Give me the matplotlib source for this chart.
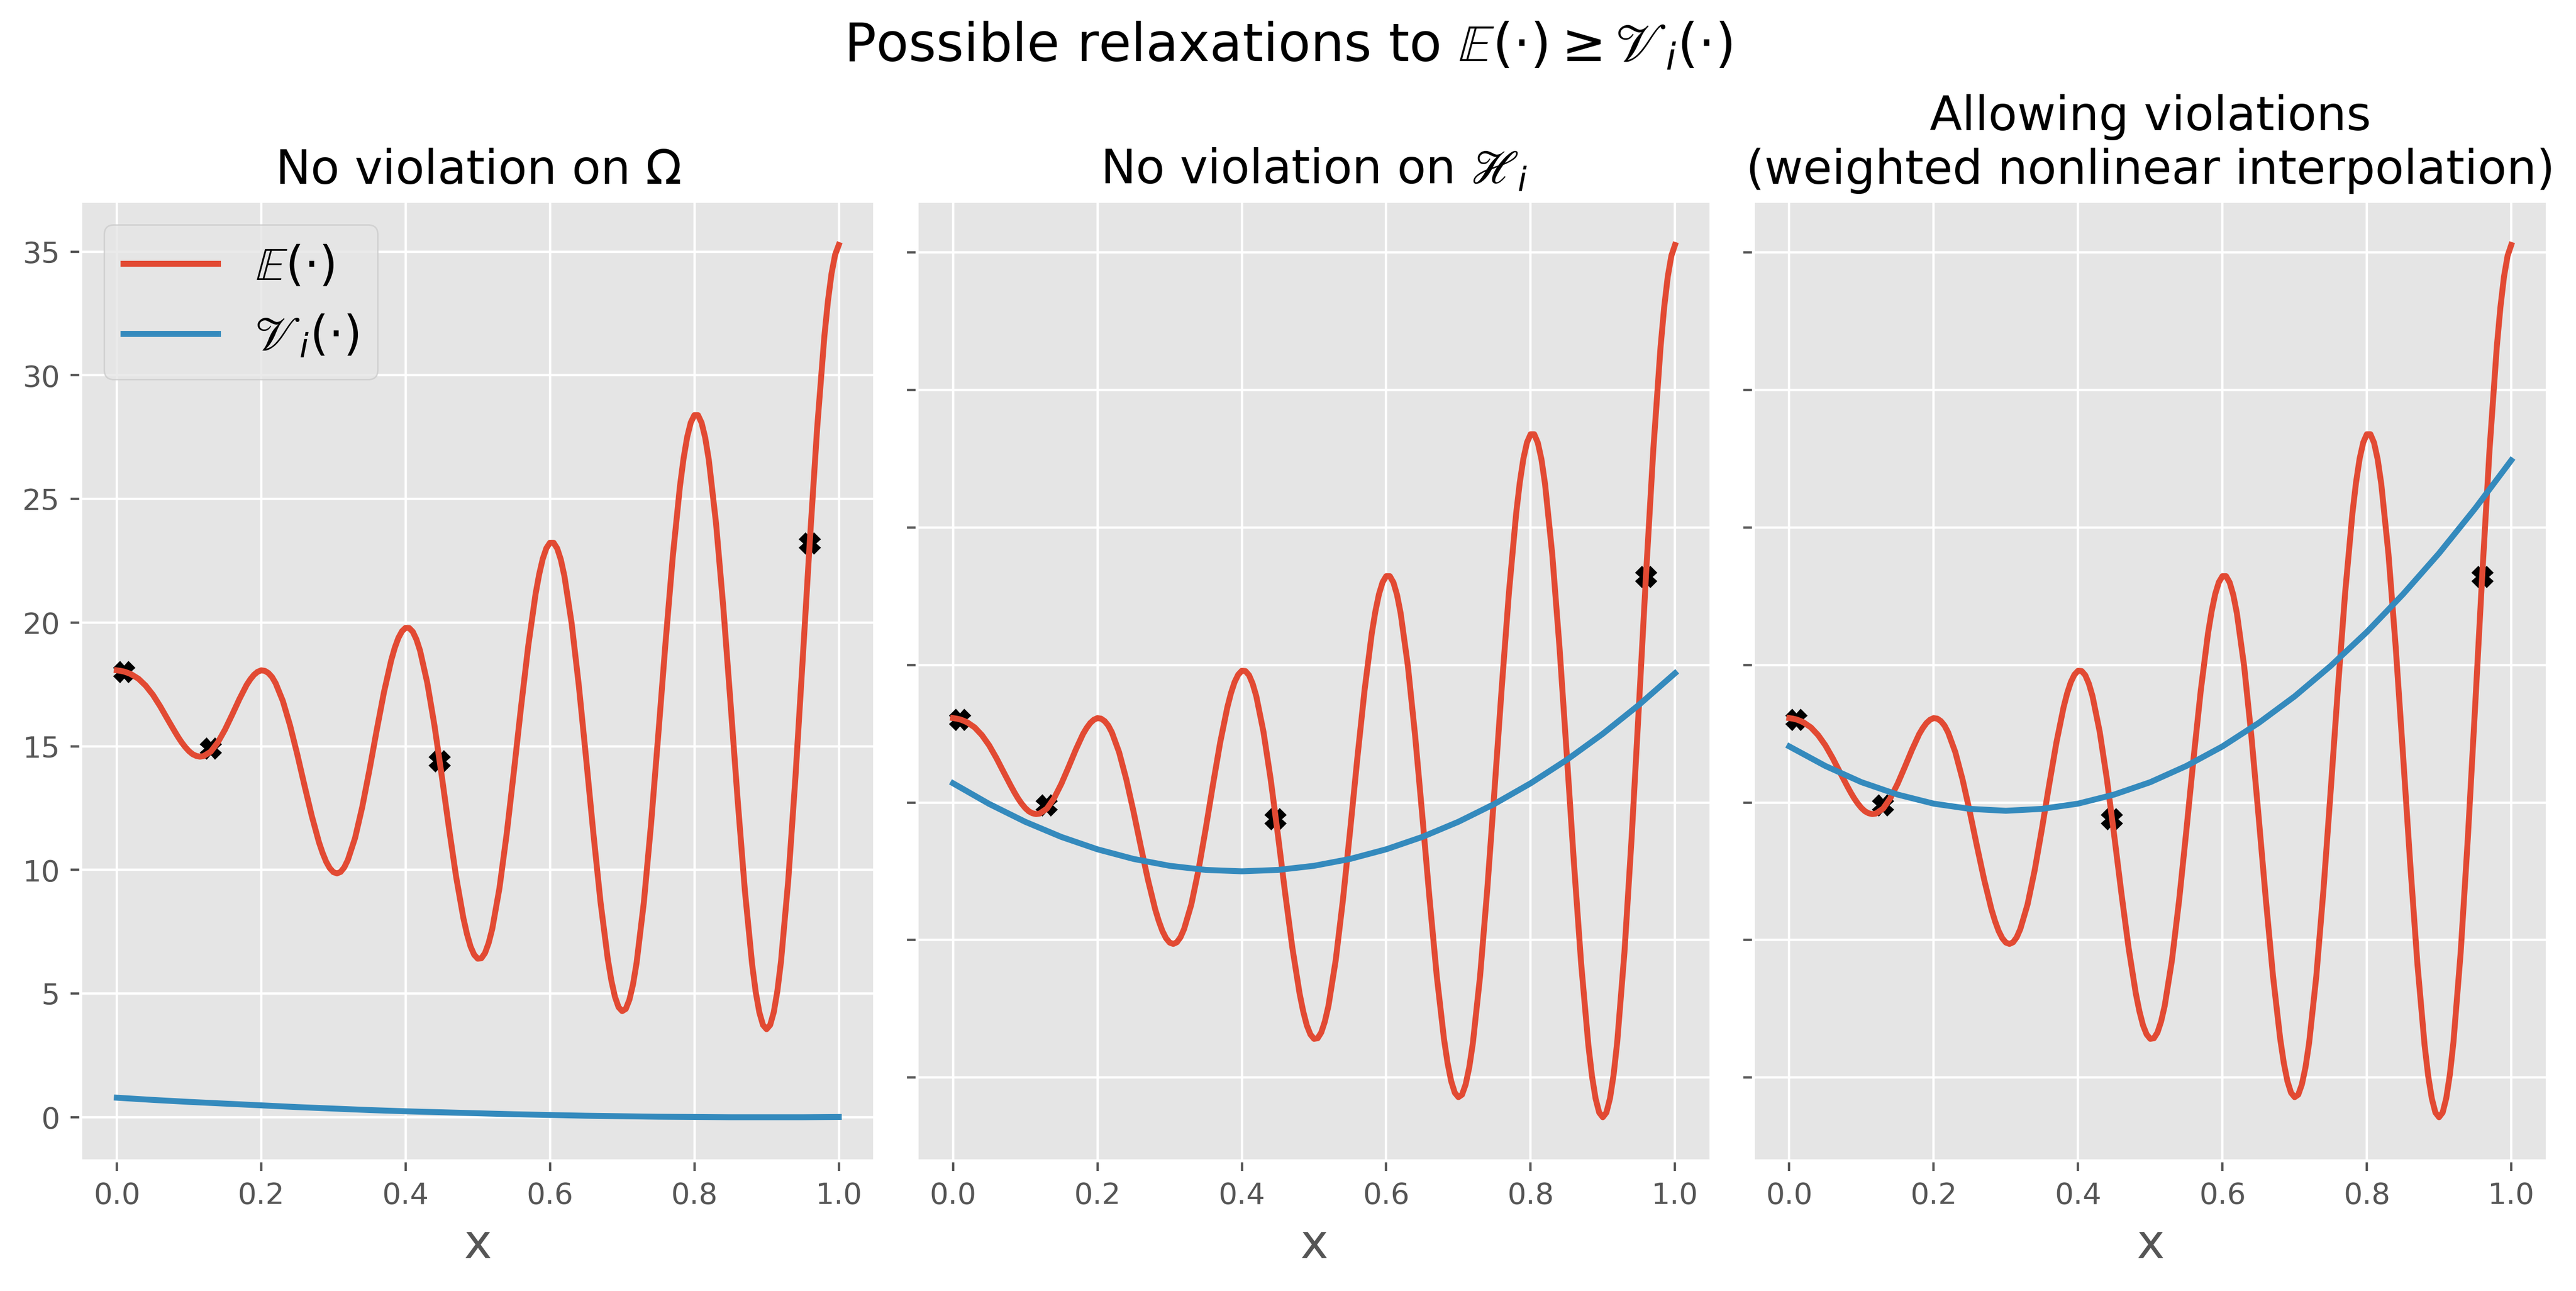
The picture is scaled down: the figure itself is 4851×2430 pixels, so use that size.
import matplotlib
matplotlib.use("Agg")
import numpy as np
import matplotlib.pyplot as plt

x_fine = np.linspace(0, 1, 101)
e_vals = [18.07, 18.02, 17.91, 17.73, 17.45, 17.08, 16.62, 16.11, 15.61, 15.15,
          14.80, 14.61, 14.60, 14.78, 15.16, 15.68, 16.29, 16.92, 17.49, 17.89,
          18.07, 17.96, 17.55, 16.83, 15.84, 14.67, 13.41, 12.19, 11.12, 10.33,
          9.91, 9.92, 10.40, 11.29, 12.55, 14.05, 15.65, 17.18, 18.47, 19.38,
          19.79, 19.63, 18.87, 17.57, 15.84, 13.82, 11.71, 9.72, 8.06, 6.90,
          6.41, 6.64, 7.61, 9.26, 11.45, 13.98, 16.61, 19.08, 21.15, 22.58,
          23.23, 23.00, 21.88, 19.97, 17.44, 14.52, 11.51, 8.70, 6.41, 4.87,
          4.29, 4.75, 6.25, 8.68, 11.85, 15.46, 19.17, 22.64, 25.51, 27.50,
          28.39, 28.08, 26.58, 24.02, 20.65, 16.78, 12.81, 9.15, 6.18, 4.24,
          3.56, 4.25, 6.30, 9.56, 13.75, 18.49, 23.34, 27.84, 31.56, 34.12,
          35.27]

# extra readings around the peaks and dips so they come out round
x_extra = [0.005, 0.015,
           0.085, 0.095, 0.105, 0.115,
           0.185, 0.195, 0.205, 0.215,
           0.285, 0.295, 0.305, 0.315,
           0.385, 0.395, 0.405, 0.415,
           0.485, 0.495, 0.505, 0.515,
           0.585, 0.595, 0.605, 0.615,
           0.685, 0.695, 0.705, 0.715,
           0.785, 0.795, 0.805, 0.815,
           0.885, 0.895, 0.905, 0.915,
           0.985, 0.995]
e_extra = [18.05, 17.97,
           15.37, 14.96, 14.68, 14.58,
           17.71, 18.01, 18.05, 17.80,
           10.69, 10.07, 9.86, 10.10,
           18.98, 19.65, 19.78, 19.32,
           7.41, 6.57, 6.43, 7.04,
           21.95, 23.01, 23.23, 22.55,
           5.53, 4.45, 4.38, 5.37,
           26.63, 28.09, 28.39, 27.48,
           5.06, 3.73, 3.73, 5.11,
           33.00, 34.88]

# the V_i curves, one per panel
x_coarse = np.linspace(0, 1, 21)
v_omega = [0.79, 0.70, 0.62, 0.55, 0.48, 0.41, 0.35, 0.29, 0.24, 0.20, 0.16,
           0.12, 0.09, 0.06, 0.04, 0.02, 0.01, 0.0, 0.0, 0.0, 0.01]
v_hi = [15.70, 14.95, 14.30, 13.75, 13.30, 12.95, 12.70, 12.55, 12.50, 12.55, 12.70,
        12.95, 13.30, 13.75, 14.30, 14.95, 15.70, 16.55, 17.50, 18.55, 19.70]
v_weighted = [17.04, 16.33, 15.74, 15.29, 14.96, 14.77, 14.70, 14.77, 14.96, 15.29, 15.74,
              16.33, 17.04, 17.89, 18.86, 19.97, 21.20, 22.57, 24.06, 25.69, 27.44]

# sample points (black crosses)
mark_x = [0.01, 0.13, 0.447, 0.96]
mark_y = [18.0, 14.9, 14.4, 23.2]

titles = [r"No violation on $\Omega$",
          r"No violation on $\mathscr{H}_i$",
          "Allowing violations\n(weighted nonlinear interpolation)"]
v_curves = [v_omega, v_hi, v_weighted]

# merge both sets of E readings in x order
e_x = np.concatenate([x_fine, x_extra])
e_y = np.concatenate([e_vals, e_extra])
order = np.argsort(e_x)
e_x, e_y = e_x[order], e_y[order]

plt.style.use("ggplot")

fig, axes = plt.subplots(1, 3, figsize=(4851 / 400, 2430 / 400), dpi=400)
fig.subplots_adjust(left=152 / 4851, right=4797 / 4851,
                    top=1 - 379 / 2430, bottom=1 - 2185 / 2430, wspace=0.053)

for i, ax in enumerate(axes):
    ax.plot(mark_x, mark_y, "X", color="black", ls="")
    ax.plot(e_x, e_y, color="#E24A33", lw=2, label=r"$\mathbb{E}(\cdot)$")
    ax.plot(x_coarse, v_curves[i], color="#348ABD", lw=2, label=r"$\mathscr{V}_i(\cdot)$")
    ax.set_title(titles[i], fontsize=16)
    ax.set_xlabel("x", fontsize=16)
    if i > 0:
        ax.tick_params(labelleft=False)

axes[0].legend(loc="upper left", fontsize=16)

fig.suptitle(r"Possible relaxations to $\mathbb{E}(\cdot) \geq \mathscr{V}_i(\cdot)$",
             fontsize=18, y=1 - 116 / 2430, va="baseline")

fig.savefig("out.png", dpi=400)
